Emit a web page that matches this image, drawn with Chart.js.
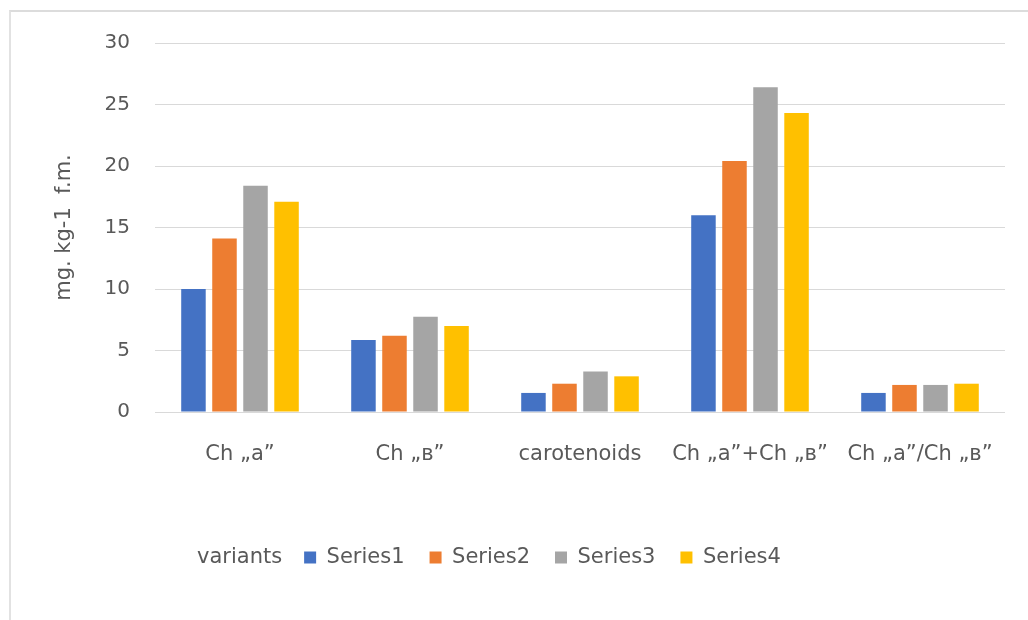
<!DOCTYPE html>
<html>
<head>
<meta charset="utf-8">
<script src="https://cdn.jsdelivr.net/npm/chart.js@4"></script>
<style>
  html, body { margin: 0; padding: 0; background: #ffffff; overflow: hidden; }
  #wrap { position: relative; width: 1028px; height: 620px; }
  #frame {
    position: absolute; left: 9px; top: 10px; width: 1030px; height: 620px;
    border-top: 2px solid #dcdcdc; border-left: 2px solid #e2e2e2;
    pointer-events: none;
  }
  canvas { position: absolute; left: 0; top: 0; }
</style>
</head>
<body>
<div id="wrap">
  <canvas id="chart" width="1028" height="620"></canvas>
  <div id="frame"></div>
</div>
<script>
// Pigment content per variant (mg.kg-1 fresh matter)
const categories = ['Ch „a”', 'Ch „в”', 'carotenoids', 'Ch „a”+Ch „в”', 'Ch „a”/Ch „в”'];
const series1 = [10.0, 5.85, 1.55, 16.0, 1.55];
const series2 = [14.1, 6.2, 2.3, 20.4, 2.2];
const series3 = [18.4, 7.75, 3.3, 26.4, 2.2];
const series4 = [17.1, 7.0, 2.9, 24.3, 2.3];
const seriesNames = ['Series1', 'Series2', 'Series3', 'Series4'];
const seriesColors = ['#4472C4', '#ED7D31', '#A5A5A5', '#FFC000'];
const yTicks = [0, 5, 10, 15, 20, 25, 30];
const yTitle = 'mg. kg-1  f.m.';
const legendLead = 'variants';

const FONT = "'DejaVu Sans', sans-serif";
const TEXT = '#595959';
const PAD_LEFT = 52;
const LEGEND_SHIFT = 14;

const values = [series1, series2, series3, series4];

// Nudges the legend row sideways and writes the "variants" caption before it
const legendLeadPlugin = {
  id: 'legendLead',
  afterLayout(chart) {
    const lg = chart.legend;
    if (!lg) return;
    lg.left += LEGEND_SHIFT;
    lg.right += LEGEND_SHIFT;
  },
  afterDraw(chart) {
    const lg = chart.legend;
    if (!lg || !lg.legendHitBoxes || !lg.legendHitBoxes.length) return;
    const hb = lg.legendHitBoxes[0];
    const ctx = chart.ctx;
    ctx.save();
    ctx.font = "21px " + FONT;
    ctx.fillStyle = TEXT;
    ctx.textAlign = 'right';
    ctx.textBaseline = 'middle';
    ctx.fillText(legendLead, hb.left - 22, hb.top + hb.height / 2);
    ctx.restore();
  }
};

new Chart(document.getElementById('chart'), {
  type: 'bar',
  data: {
    labels: categories,
    datasets: values.map((v, i) => ({
      label: seriesNames[i],
      data: v,
      backgroundColor: seriesColors[i],
      borderWidth: 0,
      categoryPercentage: 0.73,
      barPercentage: 0.79
    }))
  },
  options: {
    responsive: false,
    animation: false,
    layout: { padding: { left: PAD_LEFT, right: 23, top: 43, bottom: 42 } },
    plugins: {
      tooltip: { enabled: false },
      legend: {
        position: 'bottom',
        labels: {
          font: { family: FONT, size: 21 },
          color: TEXT,
          boxWidth: 12,
          boxHeight: 12,
          padding: 25
        }
      }
    },
    scales: {
      x: {
        grid: { display: false },
        border: { display: false },
        ticks: {
          font: { family: FONT, size: 21 },
          color: TEXT,
          padding: 22,
          maxRotation: 0
        },
        afterFit(scale) { scale.height = 110; }
      },
      y: {
        min: 0,
        max: 30,
        afterBuildTicks(scale) { scale.ticks = yTicks.map(v => ({ value: v })); },
        grid: { color: '#d9d9d9', lineWidth: 1, drawTicks: false },
        border: { display: false },
        ticks: {
          font: { family: FONT, size: 20 },
          color: TEXT,
          padding: 25
        },
        title: {
          display: true,
          text: yTitle,
          font: { family: FONT, size: 21 },
          color: TEXT,
          padding: 0
        },
        afterFit(scale) { scale.width = 155 - PAD_LEFT; }
      }
    }
  },
  plugins: [legendLeadPlugin]
});
</script>
</body>
</html>
